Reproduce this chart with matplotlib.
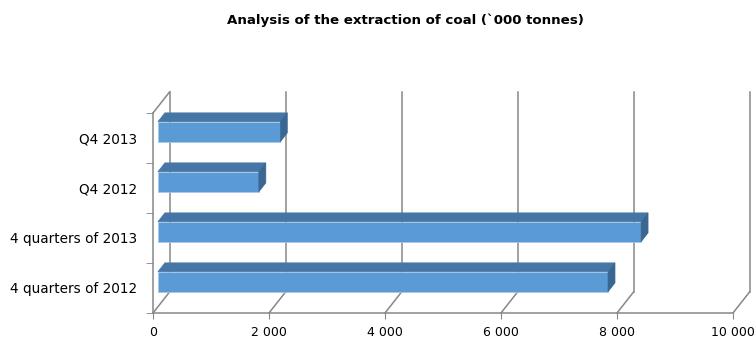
import matplotlib.pyplot as plt
from matplotlib.patches import Polygon

categories = ["4 quarters of 2012", "4 quarters of 2013", "Q4 2012", "Q4 2013"]
values = [7760, 8330, 1740, 2110]
xticks = [0, 2000, 4000, 6000, 8000, 10000]
xticklabels = ["0", "2 000", "4 000", "6 000", "8 000", "10 000"]

GRID = "#878787"
FRONT = "#5b9bd5"
TOP = "#4576a6"
SIDE = "#3a6792"

# pseudo-3d depth of the plot box, in data units
DX = 285.0
DY = 0.42
# bar sits between these depth fractions
T1, T2 = 0.30, 0.72
BAR_H = 0.40


def main():
    fig = plt.figure(figsize=(7.55, 3.4), dpi=100)
    ax = fig.add_axes([153 / 755, 27 / 340, 580 / 755, 200 / 340])
    ax.set_xlim(0, 10000)
    ax.set_ylim(-0.5, len(categories) - 0.5)
    top = len(categories) - 0.5

    # back wall gridlines and floor diagonals
    for v in xticks:
        ax.plot([v + DX, v + DX], [-0.5 + DY, top + DY], color=GRID, lw=1.1, clip_on=False)
        ax.plot([v, v + DX], [-0.5, -0.5 + DY], color=GRID, lw=1.1, clip_on=False)
    # left wall top edge
    ax.plot([0, DX], [top, top + DY], color=GRID, lw=1.1, clip_on=False)

    # bars: front face, top face, side face
    y = [i + T1 * DY for i in range(len(categories))]
    ax.barh(y, values, left=T1 * DX, height=BAR_H, color=FRONT,
            edgecolor="#a9c8e8", linewidth=0.5, clip_on=False, zorder=3)
    for i, v in enumerate(values):
        y0 = i + T1 * DY - BAR_H / 2
        y1 = i + T1 * DY + BAR_H / 2
        d_x = (T2 - T1) * DX
        d_y = (T2 - T1) * DY
        x0 = T1 * DX
        x1 = v + T1 * DX
        ax.add_patch(Polygon([(x0, y1), (x1, y1), (x1 + d_x, y1 + d_y), (x0 + d_x, y1 + d_y)],
                             closed=True, facecolor=TOP, edgecolor=TOP, lw=0.5,
                             clip_on=False, zorder=3))
        ax.add_patch(Polygon([(x1, y0), (x1, y1), (x1 + d_x, y1 + d_y), (x1 + d_x, y0 + d_y)],
                             closed=True, facecolor=SIDE, edgecolor=SIDE, lw=0.5,
                             clip_on=False, zorder=3))

    for side in ["top", "right"]:
        ax.spines[side].set_visible(False)
    for side in ["left", "bottom"]:
        ax.spines[side].set_color(GRID)
        ax.spines[side].set_linewidth(1.1)

    ax.set_xticks(xticks)
    ax.set_xticklabels(xticklabels, fontsize=9.0)
    ax.tick_params(axis="x", length=4, color=GRID, pad=5)

    ax.set_yticks(range(len(categories)))
    ax.set_yticklabels(categories, fontsize=9.8)
    ax.set_yticks([i - 0.5 for i in range(len(categories) + 1)], minor=True)
    ax.tick_params(axis="y", which="major", length=0, pad=11.5)
    ax.tick_params(axis="y", which="minor", length=5, color=GRID)

    fig.text(405 / 755, 1 - 20 / 340, "Analysis of the extraction of coal (`000 tonnes)",
             ha="center", va="center", fontsize=9.6, fontweight="bold")

    fig.savefig("out.png", dpi=100)


if __name__ == "__main__":
    main()
